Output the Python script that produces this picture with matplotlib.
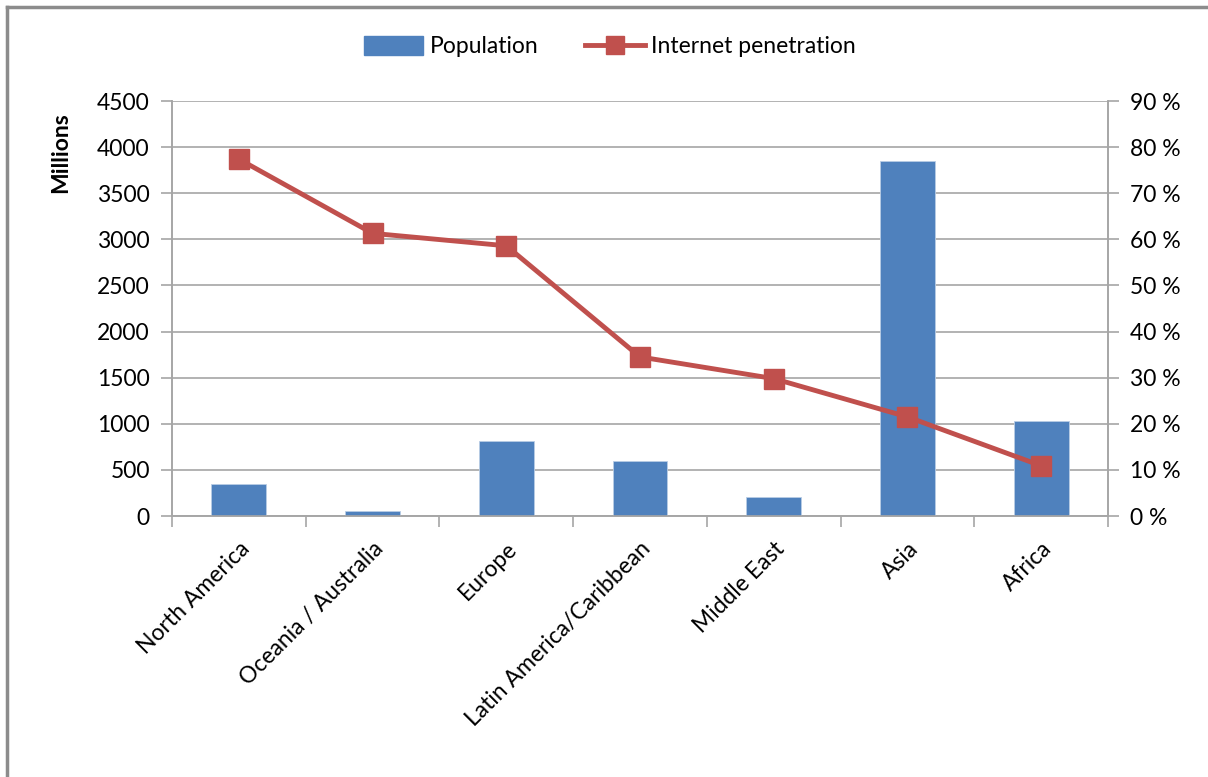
import matplotlib
matplotlib.use("Agg")
from matplotlib import pyplot as plt
from matplotlib.lines import Line2D
from matplotlib.patches import Patch
import numpy as np

regions = ['North America', 'Oceania / Australia', 'Europe',
           'Latin America/Caribbean', 'Middle East', 'Asia', 'Africa']
population = [345, 50, 815, 595, 205, 3845, 1025]
penetration = [77.4, 61.3, 58.6, 34.5, 29.8, 21.5, 10.9]

blue = '#4f81bd'
red = '#c0504d'
grid_col = '#a6a6a6'
fs = 16.5

plt.rcParams['font.family'] = ['Lato', 'DejaVu Sans']

fig = plt.figure(figsize=(12.08, 7.77), dpi=100)
ax = fig.add_axes([0.1424, 0.3359, 0.7748, 0.5341])
ax2 = ax.twinx()

x = np.arange(len(regions))
ax.bar(x, population, width=0.41, color=blue, edgecolor='#b9cde5', linewidth=0.6, zorder=3)
ax2.plot(x, penetration, color=red, linewidth=3.5, marker='s', markersize=14,
         markerfacecolor=red, markeredgecolor=red, zorder=4)

ax.set_xlim(-0.5, len(regions) - 0.5)
ax.set_ylim(0, 4500)
ax.set_yticks(np.arange(0, 4501, 500))
ax2.set_ylim(0, 90)
ax2.set_yticks(np.arange(0, 91, 10))
ax2.set_yticklabels([f'{v} %' for v in range(0, 91, 10)])

ax.yaxis.grid(True, color=grid_col, linewidth=1.2, zorder=0)
ax.set_axisbelow(True)

ax.set_xticks(x)
ax.set_xticklabels(regions, rotation=45, ha='right', rotation_mode='anchor', fontsize=fs)
ax.tick_params(axis='x', which='major', length=0, pad=16)
ax.set_xticks(np.arange(-0.5, len(regions), 1.0), minor=True)
ax.tick_params(axis='x', which='minor', length=8, color=grid_col, width=1.2)

ax.tick_params(axis='y', labelsize=fs, length=8, color=grid_col, width=1.2, pad=8)
ax2.tick_params(axis='y', labelsize=fs, length=8, color=grid_col, width=1.2, pad=8)

for a in (ax, ax2):
    a.spines['top'].set_visible(False)
    for s in ('left', 'right', 'bottom'):
        a.spines[s].set_color(grid_col)
        a.spines[s].set_linewidth(1.2)

ax.set_ylabel('Millions', fontsize=fs, fontweight='bold')
ax.yaxis.set_label_coords(-0.108, 0.875)

handles = [Patch(facecolor=blue, edgecolor=blue),
           Line2D([0], [0], color=red, linewidth=3.5, marker='s', markersize=13)]
fig.legend(handles, ['Population', 'Internet penetration'], loc='center',
           bbox_to_anchor=(0.505, 0.94), ncol=2, frameon=False, fontsize=fs,
           handlelength=2.6, handleheight=0.9, handletextpad=0.3, columnspacing=2.0)

# chart border (top and left edges visible)
fig.add_artist(Line2D([0.006, 1.0], [0.991, 0.991], color='#8c8c8c', linewidth=2.5))
fig.add_artist(Line2D([0.006, 0.006], [0.0, 0.991], color='#8c8c8c', linewidth=2.5))

fig.savefig('out.png', dpi=100)
